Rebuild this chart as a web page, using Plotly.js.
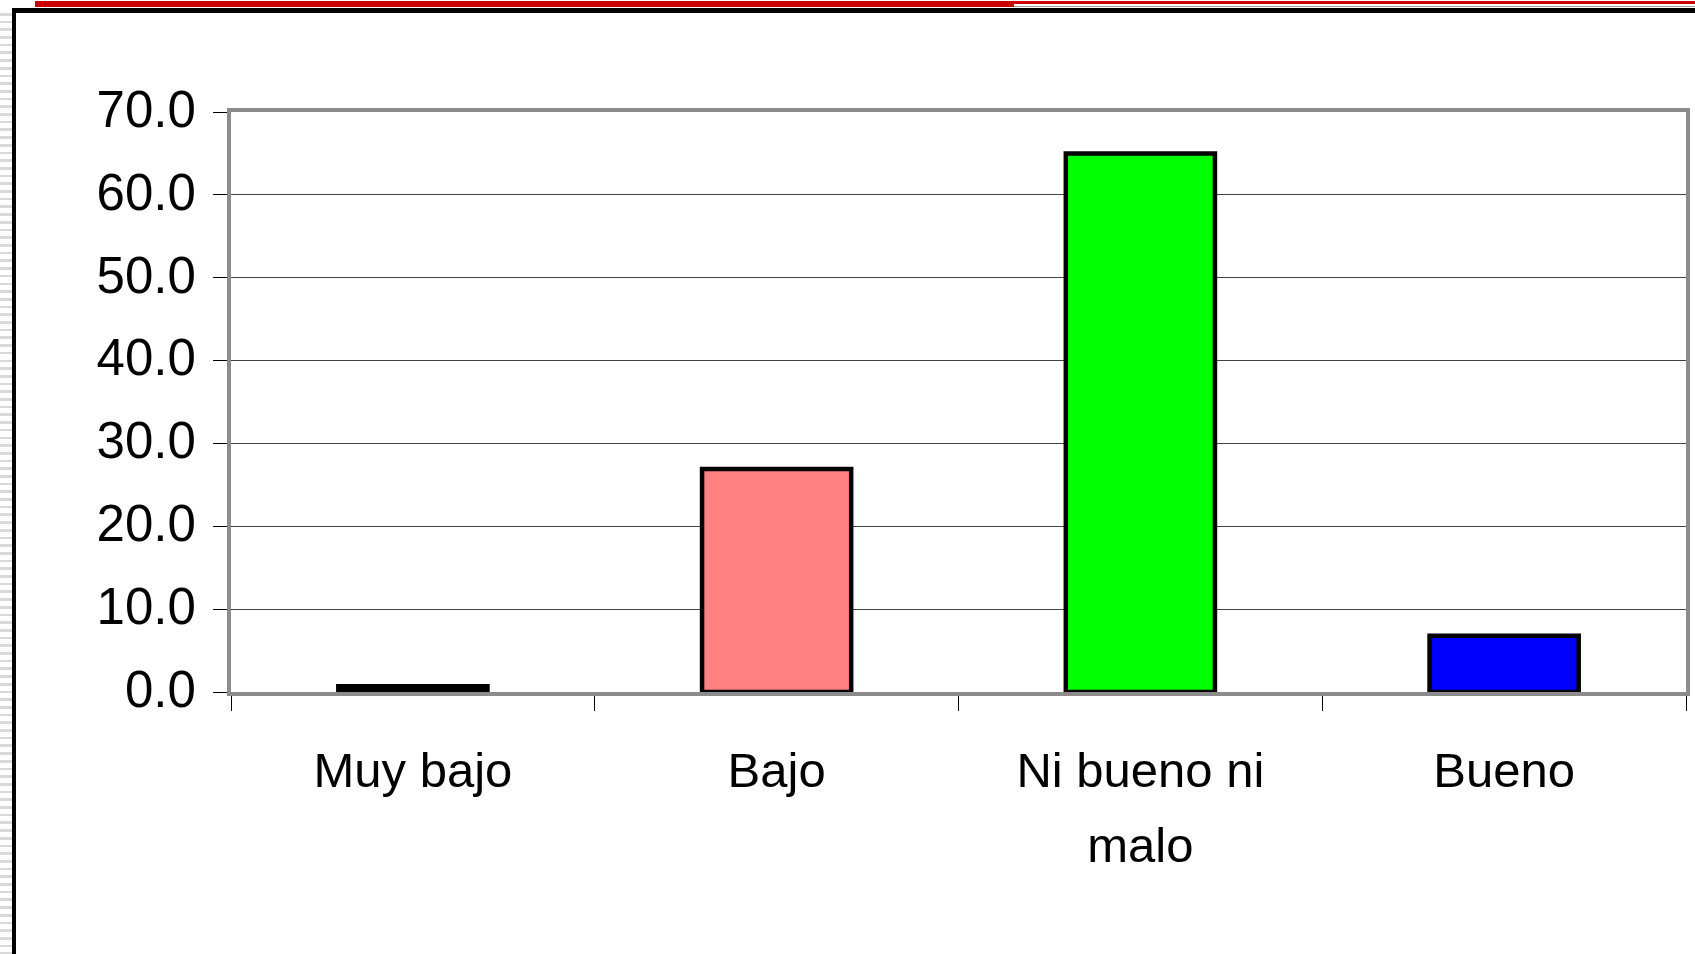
<!DOCTYPE html>
<html>
<head>
<meta charset="utf-8">
<script src="https://cdn.plot.ly/plotly-3.0.1.min.js"></script>
<style>
  html, body { margin: 0; padding: 0; background: #ffffff; width: 1695px; height: 954px; overflow: hidden; }
  #chart { position: absolute; left: 0; top: 0; width: 1695px; height: 954px; }
  .deco { position: absolute; z-index: 5; }
</style>
</head>
<body>
<div id="chart"></div>
<div class="deco" style="left:0;top:8px;width:12px;height:946px;background:repeating-linear-gradient(to bottom,#ffffff 0px,#ffffff 5px,#d9d9d9 5px,#d9d9d9 7.7px);"></div>
<div class="deco" style="left:35px;top:1px;width:979px;height:6px;background:#cc0000;"></div>
<div class="deco" style="left:1014px;top:1px;width:681px;height:3px;background:#cc0000;"></div>
<div class="deco" style="left:1014px;top:6px;width:681px;height:1px;background:#a0a0a0;"></div>
<div class="deco" style="left:12px;top:8px;width:1683px;height:5px;background:#000000;"></div>
<div class="deco" style="left:12px;top:8px;width:4px;height:946px;background:#000000;"></div>
<script>
// Data
const categories = ["Muy bajo", "Bajo", "Ni bueno ni malo", "Bueno"];
const tickLabelLines = [["Muy bajo"], ["Bajo"], ["Ni bueno ni", "malo"], ["Bueno"]];
const values = [0.7, 26.9, 65.0, 6.8];
const yTickValues = [0, 10, 20, 30, 40, 50, 60, 70];

// Styles
const barColors = ["#000000", "#ff8080", "#00ff00", "#0000ff"];
const fontFamily = "'Liberation Sans', Arial, sans-serif";
const xLabelSize = 49;

// tick font is larger than the visible text so that the line spacing matches
const tickText = tickLabelLines.map(lines =>
  lines.map(l => '<span style="font-size:' + xLabelSize + 'px">' + l + '</span>').join('<br>')
);

const trace = {
  type: "bar",
  x: categories,
  y: values,
  marker: { color: barColors, line: { color: "#000000", width: 4.5 } },
  hoverinfo: "x+y"
};

const layout = {
  width: 1695,
  height: 954,
  margin: { l: 231, r: 9, t: 112, b: 262 },
  paper_bgcolor: "rgba(0,0,0,0)",
  plot_bgcolor: "#ffffff",
  bargap: 0.59,
  showlegend: false,
  font: { family: fontFamily, color: "#000000", size: 51 },
  xaxis: {
    type: "category",
    tickvals: categories,
    ticktext: tickText,
    tickson: "boundaries",
    ticks: "outside",
    ticklen: 15,
    tickwidth: 1,
    tickcolor: "#000000",
    showgrid: false,
    showline: true,
    linecolor: "#8c8c8c",
    linewidth: 4,
    mirror: true,
    ticklabelstandoff: 21,
    tickfont: { family: fontFamily, size: 58, color: "#000000" }
  },
  yaxis: {
    range: [0, 70],
    tickvals: yTickValues,
    tickformat: ".1f",
    ticks: "outside",
    ticklen: 14,
    tickwidth: 1,
    tickcolor: "#000000",
    showgrid: true,
    gridcolor: "#444444",
    gridwidth: 1,
    zeroline: false,
    showline: true,
    linecolor: "#8c8c8c",
    linewidth: 4,
    mirror: true,
    ticklabelstandoff: 7,
    ticklabelshift: -3,
    tickfont: { family: fontFamily, size: 51, color: "#000000" }
  }
};

Plotly.newPlot("chart", [trace], layout, { displayModeBar: false, staticPlot: true });
</script>
</body>
</html>
